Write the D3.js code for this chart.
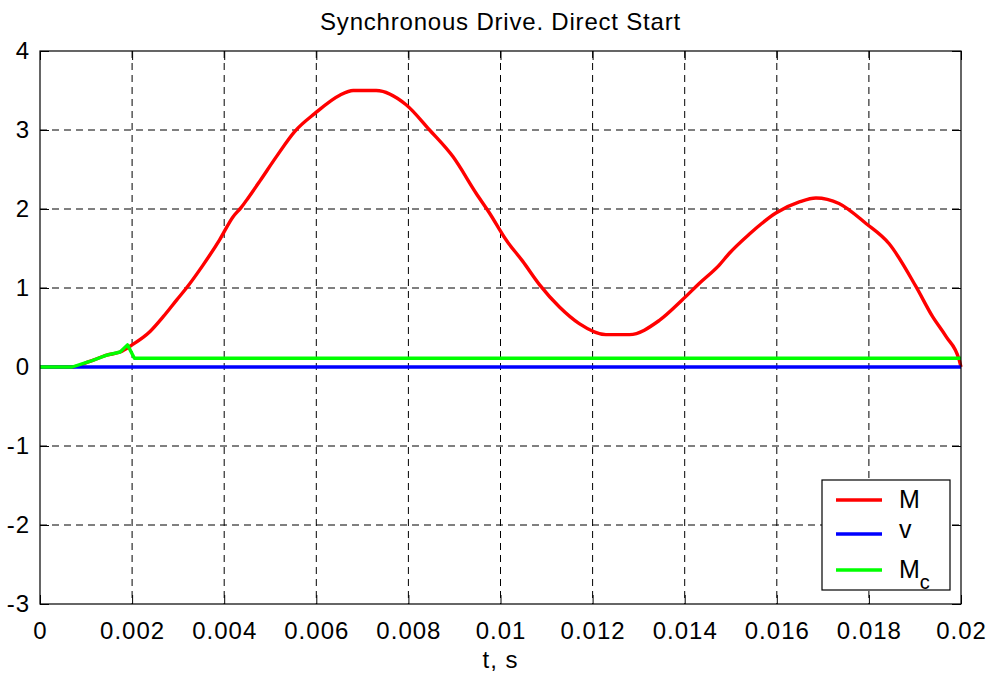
<!DOCTYPE html>
<html>
<head>
<meta charset="utf-8">
<script src="https://cdn.jsdelivr.net/npm/d3@7"></script>
<style>
  body { margin: 0; background: #fff; }
  svg { font-family: "Liberation Sans", Arial, sans-serif; }
  .grid line { stroke: #000; stroke-dasharray: 7,5; stroke-width: 1; }
  .line { fill: none; stroke-width: 3.4px; stroke-linejoin: round; }
</style>
</head>
<body>
<svg id="svg"></svg>
<script>
// electromagnetic torque M
const tM = [0, 0.0007, 0.00108, 0.00145, 0.00174, 0.002, 0.00239, 0.00268, 0.00297, 0.00318,
  0.00354, 0.0039, 0.00419, 0.00437, 0.00452, 0.00477, 0.00513, 0.00553, 0.00597, 0.00651,
  0.0068, 0.0073, 0.00795, 0.00846, 0.00897, 0.00947, 0.00976, 0.01012, 0.01048, 0.01085,
  0.01128, 0.01171, 0.01229, 0.0128, 0.01345, 0.01395, 0.01432, 0.01475, 0.01497, 0.0154,
  0.01598, 0.01649, 0.01685, 0.01735, 0.01793, 0.01844, 0.01902, 0.01938, 0.01967, 0.01996, 0.02];
const vM = [0, 0, 0.07, 0.15, 0.19, 0.28, 0.45, 0.64, 0.85, 1.0,
  1.29, 1.61, 1.9, 2.02, 2.14, 2.35, 2.66, 2.98, 3.21, 3.44,
  3.5, 3.5, 3.32, 3.0, 2.66, 2.2, 1.95, 1.61, 1.34, 1.04,
  0.76, 0.55, 0.41, 0.41, 0.59, 0.85, 1.06, 1.29, 1.44, 1.68,
  1.95, 2.09, 2.14, 2.07, 1.82, 1.56, 1.02, 0.64, 0.39, 0.09, 0];

// speed v
const tV = [0, 0.02];
const vV = [0, 0];

// load torque Mc
const tMc = [0, 0.0007, 0.00108, 0.00145, 0.00174, 0.0019, 0.00205, 0.02];
const vMc = [0, 0, 0.07, 0.15, 0.19, 0.28, 0.11, 0.11];

const xTicks = [0, 0.002, 0.004, 0.006, 0.008, 0.01, 0.012, 0.014, 0.016, 0.018, 0.02];
const yTicks = [-3, -2, -1, 0, 1, 2, 3, 4];

const margin = {top: 51, right: 32, bottom: 69, left: 40},
    width = 993 - margin.left - margin.right,
    height = 673 - margin.top - margin.bottom;

const x = d3.scaleLinear().domain([0, 0.02]).range([0, width]);
const y = d3.scaleLinear().domain([-3, 4]).range([height, 0]);

const root = d3.select('#svg')
    .attr('width', 993)
    .attr('height', 673);

const svg = root.append('g')
    .attr('transform', 'translate(' + margin.left + ',' + margin.top + ')');

// grid
const grid = svg.append('g').attr('class', 'grid');
grid.selectAll('.vx').data(xTicks.slice(1, -1)).enter().append('line')
    .attr('x1', d => x(d)).attr('x2', d => x(d))
    .attr('y1', 0).attr('y2', height);
grid.selectAll('.hy').data(yTicks.slice(1, -1)).enter().append('line')
    .attr('x1', 0).attr('x2', width)
    .attr('y1', d => y(d)).attr('y2', d => y(d));

const fmt = d => d === 0 ? '0' : String(+d.toFixed(3));

// axes, ticks drawn inside the box
const xAxis = d3.axisBottom(x).tickValues(xTicks).tickSizeInner(-9).tickSizeOuter(0).tickPadding(18).tickFormat(fmt);
const yAxis = d3.axisLeft(y).tickValues(yTicks).tickSizeInner(-9).tickSizeOuter(0).tickPadding(10).tickFormat(d => String(d));

const gx = svg.append('g')
    .attr('transform', 'translate(0,' + height + ')')
    .call(xAxis);
const gy = svg.append('g').call(yAxis);
svg.append('g')
    .call(d3.axisTop(x).tickValues(xTicks).tickSizeInner(-9).tickSizeOuter(0).tickFormat(''));
svg.append('g')
    .attr('transform', 'translate(' + width + ',0)')
    .call(d3.axisRight(y).tickValues(yTicks).tickSizeInner(-9).tickSizeOuter(0).tickFormat(''));

svg.selectAll('.domain').remove();
svg.selectAll('.tick line').attr('stroke', '#000');
[gx, gy].forEach(g => g.selectAll('text')
    .attr('font-size', 24).attr('letter-spacing', 1).attr('fill', '#000')
    .attr('font-family', '"Liberation Sans", Arial, sans-serif'));

// lines
const line = d3.line().x(d => x(d[0])).y(d => y(d[1]));
const smooth = d3.line().x(d => x(d[0])).y(d => y(d[1])).curve(d3.curveMonotoneX);
const series = [
  {t: tM, v: vM, color: '#ff0000', name: 'M', gen: smooth},
  {t: tV, v: vV, color: '#0000ff', name: 'v', gen: line},
  {t: tMc, v: vMc, color: '#00ff00', name: 'M', sub: 'c', gen: line}
];
series.forEach(s => {
  svg.append('path')
      .datum(d3.zip(s.t, s.v))
      .attr('class', 'line')
      .attr('stroke', s.color)
      .attr('d', s.gen);
});

// box
svg.append('rect')
    .attr('width', width).attr('height', height)
    .attr('fill', 'none').attr('stroke', '#000').attr('stroke-width', 1.2);

// title and label
root.append('text')
    .attr('x', margin.left + width / 2).attr('y', 30)
    .attr('text-anchor', 'middle').attr('font-size', 24).attr('letter-spacing', 0.8)
    .text('Synchronous Drive. Direct Start');
root.append('text')
    .attr('x', margin.left + width / 2).attr('y', 668)
    .attr('text-anchor', 'middle').attr('font-size', 24).attr('letter-spacing', 1)
    .text('t, s');

// legend
const lg = svg.append('g').attr('transform', 'translate(' + (822 - margin.left) + ',' + (480 - margin.top) + ')');
lg.append('rect').attr('width', 128).attr('height', 110)
    .attr('fill', '#fff').attr('stroke', '#000').attr('stroke-width', 1.2);
const rows = [20, 54, 90];
series.forEach((s, i) => {
  lg.append('line')
      .attr('x1', 14).attr('x2', 60)
      .attr('y1', rows[i]).attr('y2', rows[i])
      .attr('stroke', s.color).attr('stroke-width', 3.4);
  const tx = lg.append('text')
      .attr('x', 77).attr('y', rows[i] + (i === 1 ? 4 : 8))
      .attr('font-size', 25)
      .text(s.name);
  if (s.sub) {
    tx.append('tspan').attr('dy', 11).attr('font-size', 20).text(s.sub);
  }
});
</script>
</body>
</html>
